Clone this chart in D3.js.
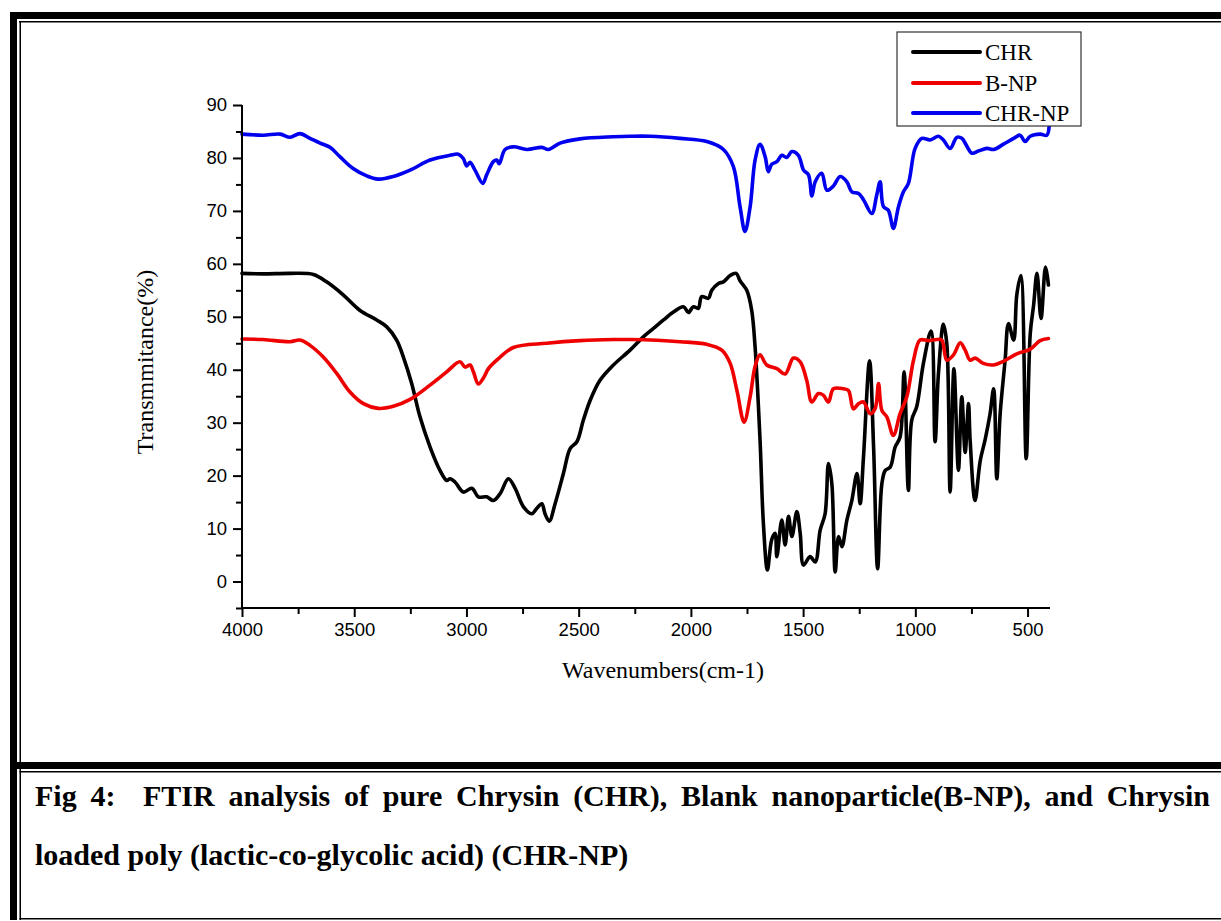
<!DOCTYPE html>
<html>
<head>
<meta charset="utf-8">
<script src="https://cdn.jsdelivr.net/npm/d3@7"></script>
<style>
  html, body { margin: 0; padding: 0; background: #fff; }
  svg { display: block; }
</style>
</head>
<body>
<svg id="fig" width="1221" height="921"></svg>
<script>
// FTIR spectra: [wavenumber (cm-1), transmittance (%)]
const chrData = [
  [4000,58.2],[3906,58.1],[3786,58.2],[3682,58.0],[3623,56.6],[3548,54.1],[3474,51.2],
  [3400,49.4],[3355,48.1],[3311,45.6],[3281,42.4],[3244,37.4],[3207,31.1],[3162,25.4],
  [3118,21.0],[3088,19.1],[3073,19.4],[3051,18.8],[3014,16.9],[2976,17.6],[2947,16.0],
  [2910,16.0],[2880,15.3],[2850,16.6],[2813,19.4],[2783,17.6],[2746,14.1],[2709,12.8],
  [2687,13.8],[2664,14.7],[2650,12.8],[2631,11.4],[2605,14.7],[2568,20.4],[2538,25.1],
  [2508,26.4],[2479,30.5],[2449,34.2],[2405,38.0],[2345,40.9],[2271,43.7],[2212,46.2],
  [2167,47.8],[2122,49.4],[2078,50.9],[2033,51.9],[2011,50.8],[1989,51.9],[1967,51.6],
  [1952,53.8],[1922,53.5],[1907,55.0],[1877,56.3],[1855,56.6],[1825,57.8],[1798,58.2],
  [1781,56.8],[1751,55.0],[1729,51.2],[1714,44.3],[1692,26.8],[1677,11.0],[1659,2.2],
  [1640,7.9],[1625,9.1],[1617,4.7],[1595,11.6],[1580,6.9],[1565,12.3],[1550,8.5],
  [1528,13.2],[1513,9.1],[1498,3.1],[1469,4.7],[1446,3.7],[1424,9.7],[1402,12.8],
  [1387,22.3],[1372,18.5],[1357,1.8],[1342,8.5],[1327,6.6],[1305,11.6],[1283,15.3],
  [1260,20.4],[1246,14.7],[1231,23.5],[1204,41.7],[1186,25.4],[1168,2.4],[1149,18.5],
  [1134,21.0],[1112,21.6],[1090,25.4],[1068,27.3],[1050,39.6],[1031,17.2],[1016,30.5],
  [994,33.0],[964,41.2],[930,47.3],[912,26.4],[897,39.3],[875,48.6],[860,45.0],
  [845,16.9],[828,40.2],[808,21.0],[793,34.9],[778,24.4],[763,33.6],[756,26.8],
  [734,15.3],[711,22.8],[689,26.8],[667,31.7],[651,36.4],[637,19.4],[622,31.7],
  [600,41.8],[585,48.7],[562,45.6],[548,54.1],[530,57.8],[506,23.2],[488,46.8],
  [473,52.2],[458,58.2],[440,49.7],[420,59.4],[407,56.0]
];

const bnpData = [
  [4000,45.8],[3906,45.7],[3786,45.3],[3742,45.6],[3697,44.6],[3638,42.4],[3578,39.3],
  [3519,35.8],[3459,33.6],[3393,32.7],[3326,33.1],[3251,34.4],[3162,37.1],[3088,39.6],
  [3029,41.5],[3006,40.5],[2984,40.9],[2969,39.6],[2947,37.3],[2925,38.4],[2902,40.2],
  [2865,41.8],[2791,44.2],[2642,45.0],[2494,45.5],[2345,45.7],[2271,45.7],[2048,45.3],
  [1929,44.8],[1862,43.7],[1825,41.2],[1795,36.1],[1763,30.1],[1736,34.9],[1714,40.6],
  [1692,42.8],[1662,40.9],[1617,40.2],[1580,39.2],[1543,42.2],[1513,41.5],[1484,38.0],
  [1461,33.9],[1432,35.5],[1410,35.2],[1387,33.9],[1365,36.4],[1320,36.4],[1298,36.1],
  [1276,32.6],[1253,33.6],[1231,33.9],[1201,31.7],[1179,32.7],[1164,37.4],[1149,32.3],
  [1127,31.1],[1098,27.6],[1068,31.7],[1038,34.9],[1008,41.8],[979,45.6],[942,45.5],
  [904,45.7],[882,45.6],[860,41.8],[830,42.8],[800,45.1],[778,43.7],[756,41.8],
  [734,42.2],[697,41.2],[651,40.9],[607,41.6],[548,43.0],[488,43.9],[444,45.5],[407,45.9]
];

const chrnpData = [
  [4000,84.5],[3906,84.3],[3830,84.5],[3786,83.9],[3742,84.6],[3697,83.7],[3652,82.8],
  [3608,82.0],[3563,80.2],[3505,78.0],[3444,76.6],[3393,76.0],[3326,76.5],[3251,77.7],
  [3162,79.6],[3073,80.5],[3036,80.7],[3014,79.9],[2999,78.5],[2984,79.2],[2962,77.7],
  [2927,75.2],[2910,76.8],[2880,79.3],[2865,79.6],[2854,78.9],[2828,81.6],[2791,82.1],
  [2731,81.6],[2664,82.0],[2635,81.6],[2583,82.8],[2494,83.6],[2345,84.0],[2271,84.1],
  [2182,84.1],[2048,83.7],[1929,83.1],[1855,81.6],[1811,78.4],[1781,70.8],[1759,66.1],
  [1736,70.8],[1714,79.6],[1692,82.6],[1669,80.2],[1655,77.4],[1640,78.8],[1617,79.3],
  [1595,80.5],[1573,80.1],[1550,81.2],[1521,80.5],[1498,77.7],[1476,76.8],[1461,72.8],
  [1446,75.5],[1417,77.1],[1394,73.9],[1365,74.7],[1335,76.5],[1305,75.5],[1283,73.6],
  [1253,73.3],[1231,72.1],[1194,69.5],[1172,73.0],[1157,75.5],[1142,70.8],[1120,70.1],
  [1098,66.7],[1075,70.8],[1053,73.6],[1031,75.2],[1001,81.8],[971,83.7],[934,83.4],
  [897,84.1],[875,83.4],[845,81.8],[815,83.9],[793,83.7],[778,82.8],[748,80.9],
  [719,81.3],[681,81.8],[651,81.6],[607,82.6],[562,83.7],[533,84.3],[511,83.1],
  [488,84.1],[444,84.5],[414,84.3],[404,85.9]
];

const seriesNames  = ["CHR", "B-NP", "CHR-NP"];
const seriesColors = ["#000000", "#ee0000", "#0000ee"];
const seriesData   = [chrData, bnpData, chrnpData];

const xTickValues = [4000, 3500, 3000, 2500, 2000, 1500, 1000, 500];
const yTickValues = [0, 10, 20, 30, 40, 50, 60, 70, 80, 90];

const captionLines = [
  "Fig 4:  FTIR analysis of pure Chrysin (CHR), Blank nanoparticle(B-NP), and Chrysin",
  "loaded poly (lactic-co-glycolic acid) (CHR-NP)"
];

const svg = d3.select("#fig");
const W = 1221;

// ---- page frame (double rules) ----
const frame = svg.append("g");
frame.append("rect").attr("x", 10).attr("y", 12).attr("width", W - 10).attr("height", 7).attr("fill", "#000");
frame.append("rect").attr("x", 19).attr("y", 21).attr("width", W - 19).attr("height", 1.5).attr("fill", "#000");
frame.append("rect").attr("x", 10).attr("y", 12).attr("width", 7).attr("height", 908).attr("fill", "#000");
frame.append("rect").attr("x", 19.5).attr("y", 21).attr("width", 1.5).attr("height", 899).attr("fill", "#000");
frame.append("rect").attr("x", 10).attr("y", 762).attr("width", W - 10).attr("height", 7).attr("fill", "#000");
frame.append("rect").attr("x", 19.5).attr("y", 771).attr("width", W - 19.5).attr("height", 1.5).attr("fill", "#000");
frame.append("rect").attr("x", 19.5).attr("y", 918).attr("width", W - 19.5).attr("height", 1.5).attr("fill", "#000");

// ---- scales ----
const x = d3.scaleLinear().domain([4000, 400]).range([242, 1050]);
const y = d3.scaleLinear().domain([-5, 90]).range([608, 105]);

// ---- spectra ----
const line = d3.line()
  .x(d => x(d[0])).y(d => y(d[1]))
  .curve(d3.curveCatmullRom.alpha(0.5));
const plot = svg.append("g");
seriesData.forEach((data, i) => {
  plot.append("path")
    .datum(data)
    .attr("fill", "none")
    .attr("stroke", seriesColors[i])
    .attr("stroke-width", 3.6)
    .attr("stroke-linejoin", "round")
    .attr("stroke-linecap", "round")
    .attr("d", line);
});

// ---- axes ----
const tickFont = "'Liberation Sans', Arial, sans-serif";

const xAxis = svg.append("g").attr("transform", `translate(0,${y(-5)})`)
  .call(d3.axisBottom(x).tickValues(xTickValues).tickSize(9).tickPadding(6).tickFormat(d3.format("d")));
const xMinor = svg.append("g").attr("transform", `translate(0,${y(-5)})`)
  .call(d3.axisBottom(x).tickValues(d3.range(3750, 400, -500)).tickSize(6).tickFormat(""));

const yAxis = svg.append("g").attr("transform", `translate(${x(4000)},0)`)
  .call(d3.axisLeft(y).tickValues(yTickValues).tickSize(9).tickPadding(6));
const yMinor = svg.append("g").attr("transform", `translate(${x(4000)},0)`)
  .call(d3.axisLeft(y).tickValues([-5, 5, 15, 25, 35, 45, 55, 65, 75, 85]).tickSize(6).tickFormat(""));

[xAxis, xMinor, yAxis, yMinor].forEach(g => {
  g.selectAll("path.domain").attr("stroke", "#000").attr("stroke-width", 2);
  g.selectAll(".tick line").attr("stroke", "#000").attr("stroke-width", 2);
  g.selectAll(".tick text").attr("fill", "#000")
    .style("font-family", tickFont).style("font-size", "18.5px");
});
xMinor.select("path.domain").remove();
yMinor.select("path.domain").remove();
// axis lines without outer end ticks
yAxis.select("path.domain").attr("d", `M0,${y(90)}V${y(-5)}`);
xAxis.select("path.domain").attr("d", `M${x(4000)},0H${x(400)}`);

// ---- axis titles ----
const serif = "'Liberation Serif', 'Times New Roman', serif";
svg.append("text")
  .attr("x", 663).attr("y", 678)
  .attr("text-anchor", "middle")
  .style("font-family", serif).style("font-size", "24px")
  .text("Wavenumbers(cm-1)");

svg.append("text")
  .attr("transform", "translate(153,362) rotate(-90)")
  .attr("text-anchor", "middle")
  .style("font-family", serif).style("font-size", "24px")
  .text("Transmmitance(%)");

// ---- legend ----
const legend = svg.append("g");
legend.append("rect")
  .attr("x", 897).attr("y", 32).attr("width", 184).attr("height", 94)
  .attr("fill", "#fff").attr("stroke", "#333").attr("stroke-width", 1.2);
const legendRows = [52, 83, 113];
seriesNames.forEach((name, i) => {
  legend.append("line")
    .attr("x1", 913).attr("x2", 980)
    .attr("y1", legendRows[i]).attr("y2", legendRows[i])
    .attr("stroke", seriesColors[i]).attr("stroke-width", 4)
    .attr("stroke-linecap", "round");
  legend.append("text")
    .attr("x", 985).attr("y", legendRows[i] + 8)
    .style("font-family", serif).style("font-size", "23px")
    .text(name);
});

// ---- caption (first line justified to the right margin) ----
const caption = svg.append("g")
  .style("font-family", serif).style("font-weight", "bold").style("font-size", "30px");
const cap1 = caption.append("text").attr("xml:space", "preserve")
  .attr("x", 35).attr("y", 806).text(captionLines[0]);
caption.append("text").attr("xml:space", "preserve")
  .attr("x", 35).attr("y", 865).text(captionLines[1]);
const natural = cap1.node().getComputedTextLength();
const gaps = (captionLines[0].match(/ /g) || []).length;
const target = 1210 - 35;
if (natural < target && gaps > 0) {
  cap1.style("word-spacing", ((target - natural) / gaps) + "px");
}
</script>
</body>
</html>
